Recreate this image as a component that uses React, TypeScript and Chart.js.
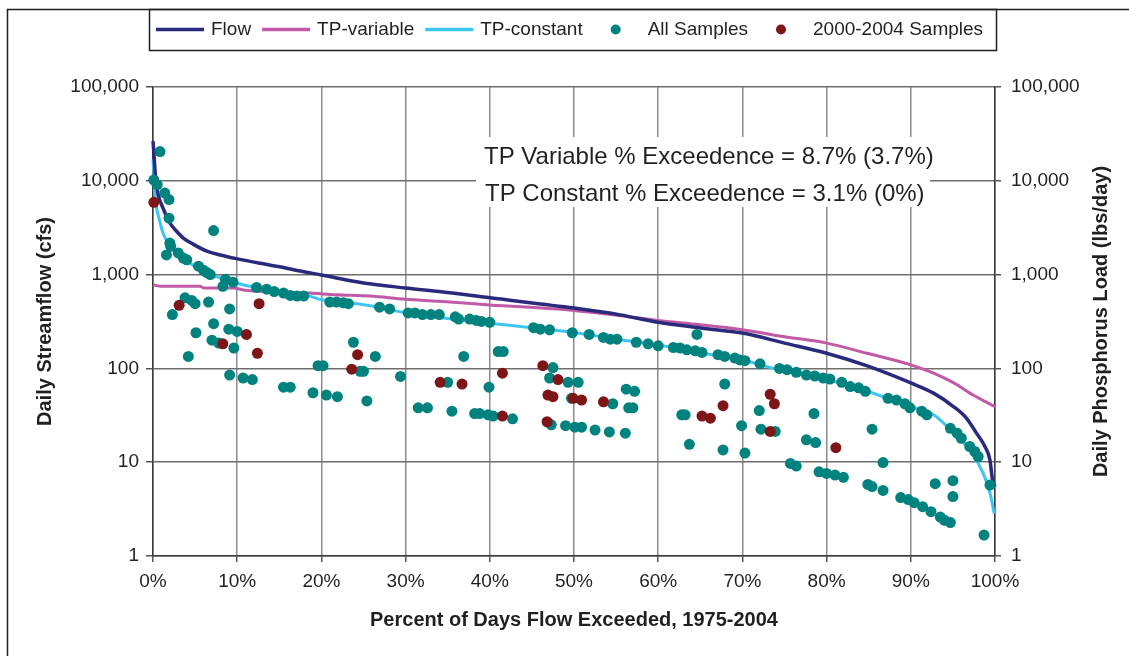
import React, { useEffect, useRef } from 'react';
import { Chart, registerables } from 'chart.js';

Chart.register(...registerables);

const FONT = "'Liberation Sans', Arial, Helvetica, sans-serif";
const TEXT = '#231f20';

// ---- Data (percent of days exceeded, value) ----
const flowPct = [0, 0.1, 0.3, 0.6, 1.2, 2.0, 2.8, 3.6, 4.8, 6.4, 8.0, 9.9, 12.7, 15.5, 17.3, 20, 25, 30, 34, 40, 50, 55.5, 60, 65, 70, 75, 80, 85, 90, 92.7, 95.1, 96.6, 97.8, 98.8, 99.4, 99.7, 100];
const flowCfs = [26500, 20000, 11000, 7200, 5100, 3550, 2900, 2450, 2100, 1780, 1620, 1480, 1320, 1190, 1100, 990, 815, 720, 660, 565, 440, 372, 310, 270, 238, 186, 145, 105, 70, 54.5, 39, 29.5, 20.4, 14.7, 10.6, 6.5, 5.5];

const tpVarPct = [0, 1, 5.6, 6, 9.5, 11, 18.6, 21.8, 25.8, 30, 34, 40, 50, 55.5, 60, 65, 70, 75, 80, 84.8, 90, 92.7, 95.1, 97.4, 100];
const tpVarLoad = [780, 750, 750, 720, 720, 680, 635, 610, 590, 545, 520, 475, 415, 364, 324, 292, 258, 218, 186, 145, 109, 89, 70, 52, 39];

const tpConstPct = [0, 0.05, 0.2, 0.4, 0.75, 1.2, 1.8, 2.8, 4.4, 6.0, 8.0, 9.9, 11.5, 18.6, 20, 23.4, 25.8, 30, 40, 50, 55.5, 60, 67.3, 70, 75, 80, 84.8, 90, 92.7, 95.1, 97, 98.6, 99.4, 99.9];
const tpConstLoad = [17000, 14200, 8700, 5350, 3870, 2760, 2170, 1700, 1320, 1080, 920, 815, 750, 590, 540, 500, 465, 392, 303, 242, 202, 177, 135, 123, 93, 76, 57, 39, 32, 20.4, 13.5, 7.6, 4.7, 2.85];

const allPct = [
  0.1, 0.5, 0.83, 1.4, 1.9, 1.9, 7.2, 2.0, 2.1, 1.6, 3.0, 3.6, 4.0, 5.4, 6.0, 6.4, 6.8, 8.6, 9.5, 8.3,
  12.3, 13.5, 14.4, 15.5, 16.3, 17.1, 17.9, 21.0, 21.8, 22.6, 23.2, 3.8, 4.6, 5.0, 6.6, 9.1, 2.3, 7.2, 5.1, 9.0,
  10.0, 7.0, 7.8, 9.6, 4.2, 23.8, 24.6, 25.0, 20.2, 19.6, 9.1, 10.7, 11.8, 15.5, 16.3, 19.0, 20.6, 21.9, 25.4, 26.4,
  29.4, 31.5, 32.6, 35.0, 26.9, 28.1, 30.3, 31.1, 32.0, 33.0, 34.0, 35.9, 36.3, 37.6, 38.4, 39.0, 40.0, 45.2, 46.0, 47.1,
  49.8, 51.8, 53.5, 54.3, 55.1, 36.9, 41.0, 41.6, 39.9, 35.5, 38.2, 38.8, 39.8, 40.4, 42.7, 47.3, 49.0, 50.1, 50.9, 52.5,
  54.2, 47.5, 47.1, 49.3, 50.5, 49.7, 54.6, 56.2, 57.2, 57.0, 56.5, 56.1, 57.4, 58.8, 60.0, 61.8, 62.6, 63.4, 64.4, 65.2,
  64.6, 67.1, 62.8, 63.2, 63.7, 67.9, 69.1, 69.7, 70.3, 72.1, 74.4, 75.3, 76.4, 77.6, 78.6, 79.6, 80.4, 81.8, 82.8, 83.8,
  84.6, 87.3, 88.3, 89.3, 89.9, 91.3, 91.9, 94.7, 95.5, 96.0, 97.0, 97.6, 98.0, 99.4, 98.7, 67.9, 69.9, 70.3, 67.7, 72.0,
  72.2, 73.9, 78.5, 77.6, 78.7, 75.7, 76.4, 79.1, 80.0, 81.0, 82.0, 85.4, 86.7, 84.9, 85.4, 86.7, 88.8, 89.7, 90.4, 91.4,
  92.4, 93.5, 94.0, 94.7, 92.9, 95.0, 95.0,
];
const allLoad = [
  10200, 9100, 20500, 7400, 6300, 4000, 2950, 2170, 2000, 1620, 1700, 1500, 1440, 1230, 1110, 1050, 1000, 890, 830, 750,
  730, 700, 660, 635, 600, 590, 590, 510, 510, 500, 490, 565, 530, 490, 510, 430, 375, 300, 240, 262,
  248, 200, 186, 165, 134, 190, 93, 93, 107, 107, 85, 79, 76, 63, 63, 55, 52, 50, 45, 134,
  82, 38, 38, 71, 450, 430, 390, 390, 375, 375, 375, 355, 336, 336, 325, 317, 310, 272, 262, 258,
  240, 230, 214, 205, 205, 134, 151, 151, 63, 35, 33, 33, 32, 31, 29, 25, 24.5, 23.6, 23.6, 22,
  21, 102, 79, 71, 71, 48, 42, 60, 57, 38, 38, 20.4, 190, 183, 174, 167, 165, 158, 154, 148,
  230, 140, 32, 32, 15.5, 134, 129, 123, 121, 112, 100, 97, 91, 85, 83, 79, 77, 71, 64, 62,
  57, 48, 46, 42, 38, 35, 32, 23, 20.4, 18, 14.7, 13, 11.5, 5.7, 1.67, 68, 24.5, 12.5, 13.5, 35.5,
  22.5, 21.3, 33, 17.3, 16.2, 9.7, 9.1, 7.9, 7.6, 7.3, 6.9, 22.5, 9.9, 5.8, 5.5, 5.0, 4.2, 4.0, 3.7, 3.36,
  2.97, 2.6, 2.4, 2.27, 5.9, 6.35, 4.3,
];

const recentPct = [0.1, 3.1, 12.6, 11.1, 8.3, 12.4, 24.3, 23.6, 34.1, 36.7, 41.5, 41.5, 46.3, 48.1, 46.9, 47.5, 49.9, 50.9, 53.5, 46.8, 65.2, 66.2, 67.7, 73.3, 73.8, 73.3, 81.1];
const recentLoad = [5900, 470, 490, 230, 183, 145, 140, 98, 71, 68, 89, 31, 107, 76, 52, 50, 48, 46, 44, 27, 31, 29.5, 40, 53, 42, 21.3, 14.3];

const xTicks = [0, 10, 20, 30, 40, 50, 60, 70, 80, 90, 100];
const yTicks = [1, 10, 100, 1000, 10000, 100000];
const annotationLines = ['TP Variable % Exceedence = 8.7% (3.7%)', 'TP Constant % Exceedence = 3.1% (0%)'];
const rightTitle = 'Daily Phosphorus Load (lbs/day)';

const toPts = (xs: number[], ys: number[]) => xs.map((x, i) => ({ x, y: ys[i] }));

const framePlugin = {
  id: 'frame',
  beforeDraw(chart: any) {
    const { ctx, width, height } = chart;
    ctx.save();
    ctx.fillStyle = '#ffffff';
    ctx.fillRect(0, 0, width, height);
    ctx.strokeStyle = TEXT;
    ctx.lineWidth = 1.5;
    ctx.beginPath();
    ctx.moveTo(7.5, height);
    ctx.lineTo(7.5, 9.5);
    ctx.lineTo(width, 9.5);
    ctx.stroke();
    ctx.restore();
  },
};

const annotationPlugin = {
  id: 'annot',
  afterDatasetsDraw(chart: any) {
    const { ctx } = chart;
    ctx.save();
    ctx.fillStyle = '#ffffff';
    ctx.fillRect(476, 137, 454, 70);
    ctx.fillStyle = TEXT;
    ctx.font = `24px ${FONT}`;
    ctx.textAlign = 'left';
    ctx.textBaseline = 'alphabetic';
    ctx.fillText(annotationLines[0], 484, 163.5);
    ctx.fillText(annotationLines[1], 485, 201);
    ctx.restore();
  },
};

const legendPlugin = {
  id: 'customLegend',
  afterDraw(chart: any) {
    const { ctx } = chart;
    ctx.save();
    ctx.font = `19px ${FONT}`;
    ctx.textBaseline = 'middle';
    ctx.textAlign = 'left';
    const y = 29.5;
    let x = 156;
    chart.data.datasets.forEach((ds: any, i: number) => {
      const isLine = ds.showLine !== false;
      if (isLine) {
        if (i > 0) x += 11;
        ctx.strokeStyle = ds.borderColor;
        ctx.lineWidth = 3.5;
        ctx.beginPath();
        ctx.moveTo(x, y);
        ctx.lineTo(x + 48, y);
        ctx.stroke();
        x += 55;
      } else {
        x += 33;
        ctx.fillStyle = ds.backgroundColor;
        ctx.beginPath();
        ctx.arc(x, y, 5, 0, Math.PI * 2);
        ctx.fill();
        x += 32;
      }
      ctx.fillStyle = TEXT;
      ctx.fillText(ds.label, x, y);
      x += ctx.measureText(ds.label).width;
    });
    ctx.strokeStyle = TEXT;
    ctx.lineWidth = 1.5;
    ctx.strokeRect(149.5, 9.5, 847, 41);
    // right axis title, reading bottom to top
    ctx.translate(1101, (chart.chartArea.top + chart.chartArea.bottom) / 2);
    ctx.rotate(-Math.PI / 2);
    ctx.font = `bold 20px ${FONT}`;
    ctx.textAlign = 'center';
    ctx.fillText(rightTitle, 0, 0);
    ctx.restore();
  },
};

const logTicks = (s: any) => {
  s.ticks = yTicks.map((v) => ({ value: v }));
};

export default function App() {
  const ref = useRef<HTMLCanvasElement | null>(null);
  useEffect(() => {
    if (!ref.current) return;
    Chart.defaults.font.family = FONT;
    Chart.defaults.color = TEXT;
    const chart = new Chart(ref.current, {
      type: 'line',
      data: {
        datasets: [
          {
            label: 'Flow',
            data: toPts(flowPct, flowCfs),
            borderColor: '#2a2a7c',
            borderWidth: 3.5,
            pointRadius: 0,
            cubicInterpolationMode: 'monotone',
            yAxisID: 'y',
            order: 3,
            clip: false,
          },
          {
            label: 'TP-variable',
            data: toPts(tpVarPct, tpVarLoad),
            borderColor: '#c05aa6',
            borderWidth: 3,
            pointRadius: 0,
            cubicInterpolationMode: 'monotone',
            yAxisID: 'y2',
            order: 5,
            clip: false,
          },
          {
            label: 'TP-constant',
            data: toPts(tpConstPct, tpConstLoad),
            borderColor: '#3cc6f2',
            borderWidth: 3,
            pointRadius: 0,
            cubicInterpolationMode: 'monotone',
            yAxisID: 'y2',
            order: 4,
            clip: false,
          },
          {
            label: 'All Samples',
            data: toPts(allPct, allLoad),
            showLine: false,
            backgroundColor: '#00827f',
            borderColor: '#00827f',
            borderWidth: 0,
            pointRadius: 5.5,
            yAxisID: 'y2',
            order: 2,
            clip: false,
          },
          {
            label: '2000-2004 Samples',
            data: toPts(recentPct, recentLoad),
            showLine: false,
            backgroundColor: '#7e1517',
            borderColor: '#7e1517',
            borderWidth: 0,
            pointRadius: 5.5,
            yAxisID: 'y2',
            order: 1,
            clip: false,
          },
        ],
      },
      options: {
        responsive: false,
        animation: false,
        events: [],
        layout: { padding: { top: 87, left: 0, right: 0, bottom: 0 } },
        plugins: { legend: { display: false }, tooltip: { enabled: false }, title: { display: false } },
        scales: {
          x: {
            type: 'linear',
            min: 0,
            max: 100,
            afterFit: (s: any) => { s.height = 100; },
            afterBuildTicks: (s: any) => { s.ticks = xTicks.map((v) => ({ value: v })); },
            ticks: { callback: (v: any) => `${v}%`, font: { size: 19 }, padding: 8, maxRotation: 0, autoSkip: false, color: TEXT },
            grid: { color: '#8c8c8c', lineWidth: 1.5, tickLength: 6, tickColor: '#555555' },
            border: { color: '#3a3a3a', width: 1.5 },
            title: { display: true, text: 'Percent of Days Flow Exceeded, 1975-2004', font: { size: 20, weight: 'bold' }, padding: { top: 0, bottom: 24 }, color: TEXT },
          },
          y: {
            type: 'logarithmic',
            position: 'left',
            min: 1,
            max: 100000,
            afterFit: (s: any) => { s.width = 153; },
            afterBuildTicks: logTicks,
            ticks: { callback: (v: any) => Number(v).toLocaleString('en-US'), font: { size: 19 }, padding: 7, autoSkip: false, color: TEXT },
            grid: { color: '#6e6e6e', lineWidth: 1.5, tickLength: 7, tickColor: '#555555' },
            border: { color: '#3a3a3a', width: 1.5 },
            title: { display: true, text: 'Daily Streamflow (cfs)', font: { size: 20, weight: 'bold' }, padding: { top: 33, bottom: 0 }, color: TEXT },
          },
          y2: {
            type: 'logarithmic',
            position: 'right',
            min: 1,
            max: 100000,
            afterFit: (s: any) => { s.width = 134; },
            afterBuildTicks: logTicks,
            ticks: { callback: (v: any) => Number(v).toLocaleString('en-US'), font: { size: 19 }, padding: 10, autoSkip: false, color: TEXT },
            grid: { drawOnChartArea: false, lineWidth: 1.5, tickLength: 6, tickColor: '#555555' },
            border: { color: '#3a3a3a', width: 1.5 },
          },
        },
      } as any,
      plugins: [framePlugin, annotationPlugin, legendPlugin],
    } as any);
    return () => chart.destroy();
  }, []);
  return (
    <div style={{ position: 'fixed', left: 0, top: 0, width: 1129, height: 656, background: '#fff' }}>
      <canvas ref={ref} width={1129} height={656} style={{ width: 1129, height: 656, display: 'block' }} />
    </div>
  );
}
